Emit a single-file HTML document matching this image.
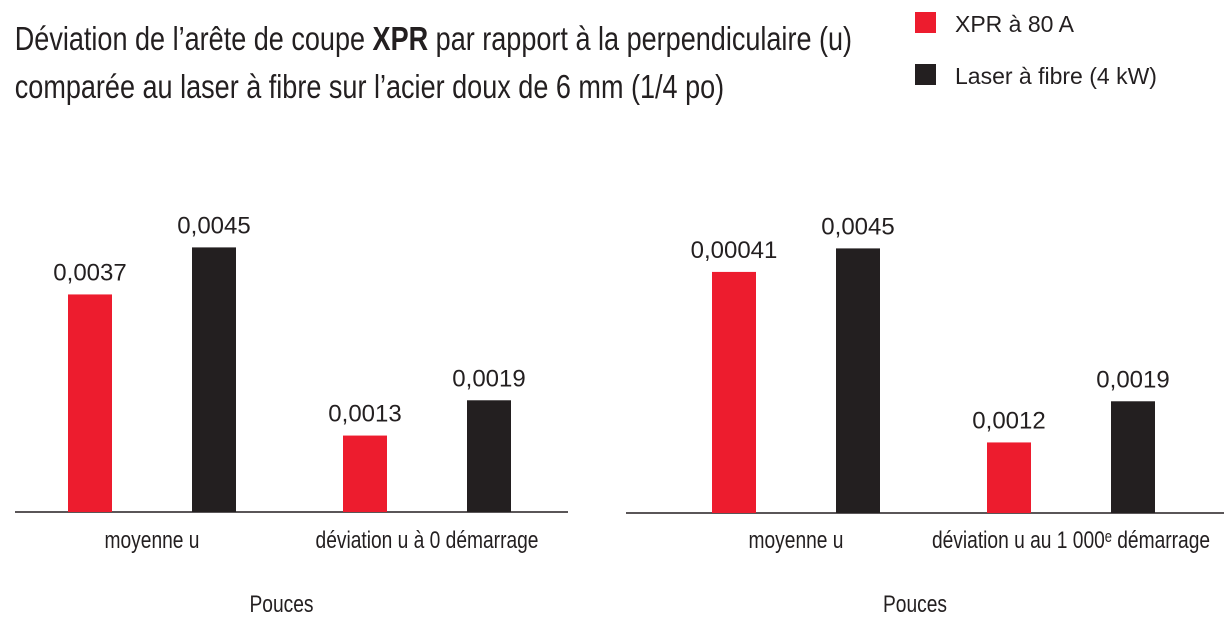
<!DOCTYPE html>
<html><head><meta charset="utf-8">
<style>
body{margin:0;background:#fff;width:1230px;height:639px;overflow:hidden;font-family:"Liberation Sans",sans-serif}
.cond{font-family:"Liberation Sans Narrow","Liberation Sans",sans-serif}
</style></head>
<body>
<svg width="1230" height="639" xmlns="http://www.w3.org/2000/svg">
<g font-family="Liberation Sans Narrow, Liberation Sans, sans-serif" font-size="33" fill="#231f20" transform="scale(0.82,1)">
<text x="18" y="50">Déviation de l’arête de coupe <tspan font-weight="bold">XPR</tspan> par rapport à la perpendiculaire (u)</text>
<text x="18" y="98">comparée au laser à fibre sur l’acier doux de 6 mm (1/4 po)</text>
</g>
<g>
<rect x="915" y="12" width="21" height="21" fill="#ed1c2e"/>
<text x="955" y="32" font-size="23" fill="#231f20">XPR à 80 A</text>
<rect x="915" y="64" width="21" height="21" fill="#231f20"/>
<text x="955" y="84" font-size="23" fill="#231f20">Laser à fibre (4 kW)</text>
</g>
<g id="plots"></g>
</svg>
<script>
const categoriesL=["moyenne u","déviation u à 0 démarrage"];
const xprL=[0.0037,0.0013];
const laserL=[0.0045,0.0019];
const xprLabelsL=["0,0037","0,0013"];
const laserLabelsL=["0,0045","0,0019"];
const categoriesR=["moyenne u","déviation u au 1 000ᵉ démarrage"];
const xprR=[0.0041,0.0012];
const laserR=[0.0045,0.0019];
const xprLabelsR=["0,00041","0,0012"];
const laserLabelsR=["0,0045","0,0019"];
const NS="http://www.w3.org/2000/svg";
const root=document.getElementById('plots');
function mk(tag,attrs,parent){const e=document.createElementNS(NS,tag);for(const k in attrs)e.setAttribute(k,attrs[k]);parent.appendChild(e);return e;}
function drawPanel(side,x0,x1,base,barStarts,cats,xv,lv,xl,ll){
  const g=mk('g',{},root);
  
  
  const y=v=>base-v*58800;
  const ax=mk('line',{x1:x0,x2:x1,y1:base,y2:base,stroke:'#231f20','stroke-width':1.5},g);
  
  
  const bw=44;
  cats.forEach((c,i)=>{
    const bx=barStarts[i];
    [[xv[i],xl[i],'#ed1c2e',bx,'xpr'],[lv[i],ll[i],'#231f20',bx+124,'laser']].forEach(([v,lab,col,px,nm])=>{
      const r=mk('rect',{x:px,y:y(v),width:bw,height:base-y(v),fill:col},g);
      
      
      const t=mk('text',{x:px+bw/2,y:y(v)-14,'text-anchor':'middle','font-size':24,fill:'#231f20'},g);
      t.textContent=lab;
      
      
    });
    const ct=mk('text',{x:0,y:548,'text-anchor':'middle','font-size':24,fill:'#231f20','font-family':'Liberation Sans Narrow, Liberation Sans, sans-serif',transform:'translate('+(bx+(bw+124)/2+22*0)+',0) scale(0.8,1)'},g);
    ct.textContent=c;
    
    
  });
  const at=mk('text',{x:0,y:612,'text-anchor':'middle','font-size':24,fill:'#231f20','font-family':'Liberation Sans Narrow, Liberation Sans, sans-serif',transform:'translate('+((x0+x1)/2-10)+',0) scale(0.8,1)'},g);
  at.textContent='Pouces';
  
  
}
drawPanel('left',15,568,512,[68,343],categoriesL,xprL,laserL,xprLabelsL,laserLabelsL);
drawPanel('right',626,1224,513,[712,987],categoriesR,xprR,laserR,xprLabelsR,laserLabelsR);
</script>
</body></html>
